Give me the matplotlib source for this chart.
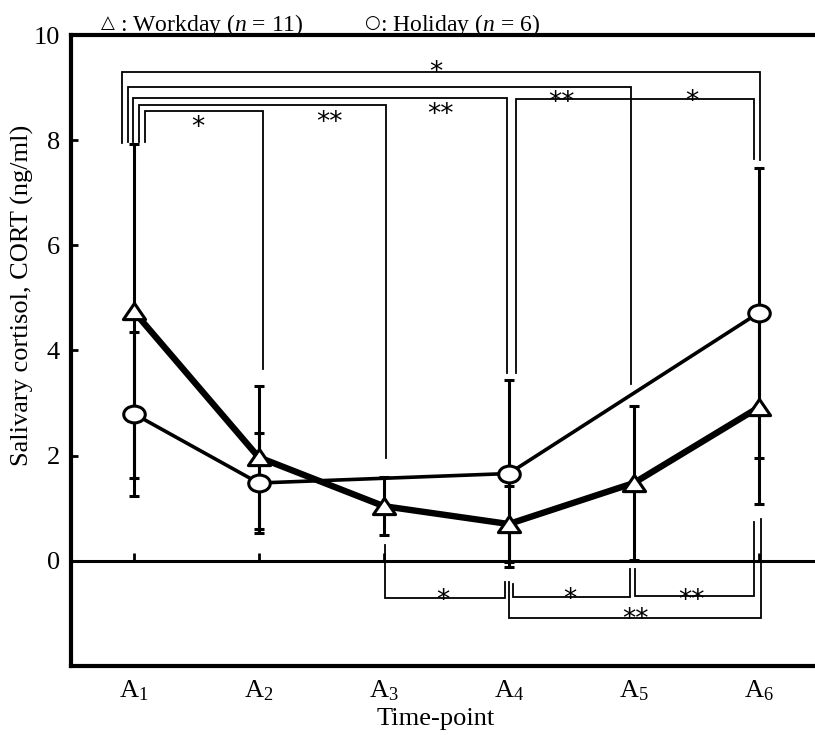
import matplotlib
matplotlib.use('Agg')
import matplotlib.pyplot as plt
from matplotlib.path import Path
from matplotlib.transforms import offset_copy
import numpy as np

plt.rcParams['font.family'] = ['Liberation Serif', 'DejaVu Sans']
plt.rcParams['mathtext.fontset'] = 'custom'
plt.rcParams['mathtext.rm'] = 'Liberation Serif'
plt.rcParams['mathtext.it'] = 'Liberation Serif:italic'

# ---------------- data ----------------
time_points = ['A$_1$', 'A$_2$', 'A$_3$', 'A$_4$', 'A$_5$', 'A$_6$']
workday_positions = [1, 2, 3, 4, 5, 6]
workday_mean = [4.75, 1.97, 1.04, 0.70, 1.48, 2.92]
workday_sd = [3.17, 1.36, 0.55, 0.72, 1.46, 1.84]
holiday_positions = [1, 2, 4, 6]
holiday_mean = [2.80, 1.48, 1.66, 4.72]
holiday_sd = [1.56, 0.96, 1.77, 2.76]
y_ticks = [0, 2, 4, 6, 8, 10]

# significance comparisons (time-point index a, index b, label)
upper_pairs = [(1, 6, '*'), (1, 5, '**'), (1, 4, '**'), (1, 3, '**'), (1, 2, '*'), (4, 6, '*')]
lower_pairs = [(3, 4, '*'), (4, 5, '*'), (5, 6, '**'), (4, 6, '**')]

# ---------------- layout of brackets ----------------
# (dx left, dx right, bar y, left end y, right end y, label x, label y)
upper_layout = [
    (-0.096, 0.008, 9.30, 7.94, 7.63, 3.42, 9.43),
    (-0.048, -0.024, 9.02, 7.96, 3.37, 4.42, 8.86),
    (-0.008, -0.016, 8.81, 7.97, 3.58, 3.45, 8.64),
    (0.040, 0.016, 8.67, 7.97, 1.95, 2.57, 8.48),
    (0.088, 0.032, 8.56, 7.97, 3.64, 1.51, 8.39),
    (0.056, -0.040, 8.79, 3.58, 7.65, 5.46, 8.88),
]
lower_layout = [
    (0.008, -0.032, -0.70, 0.30, -0.40, 3.47, -0.61),
    (0.032, -0.032, -0.68, -0.44, -0.15, 4.49, -0.59),
    (0.008, -0.040, -0.66, -0.15, 0.74, 5.46, -0.61),
    (0.000, 0.016, -1.08, -0.40, 0.80, 5.01, -0.97),
]

W, H = 815, 735
fig = plt.figure(figsize=(W / 100, H / 100), dpi=100)
ax = fig.add_axes([71 / W, 1 - 666 / H, 1 - 71 / W, (666 - 35) / H])
ylim = (-2, 10)
ax.set_xlim(0.5, 6.448)
ax.set_ylim(*ylim)

# custom (slightly flattened) markers
tri_h = 0.73
tri = Path([(0, tri_h), (-1, -tri_h), (1, -tri_h), (0, tri_h)], closed=True)
ell = Path(Path.unit_circle().vertices * np.array([1.0, 0.78]), Path.unit_circle().codes)

err_kw = dict(fmt='none', ecolor='black', elinewidth=2.2, capsize=3.6, capthick=2.2, zorder=3)
ax.errorbar(workday_positions, workday_mean, yerr=workday_sd, **err_kw)
ax.errorbar(holiday_positions, holiday_mean, yerr=holiday_sd, **err_kw)
ax.plot(workday_positions, workday_mean, color='black', lw=4.6, zorder=4)
ax.plot(holiday_positions, holiday_mean, color='black', lw=2.6, zorder=4)
ax.plot(workday_positions, workday_mean, ls='none', marker=tri, ms=16, mfc='white',
        mec='black', mew=2.2, zorder=6)
ax.plot(holiday_positions, holiday_mean, ls='none', marker=ell, ms=15.5, mfc='white',
        mec='black', mew=2.2, zorder=6)

# significance brackets
star_fs = 19
star_tr = offset_copy(ax.transData, fig=fig, y=-0.58 * star_fs, units='points')


def bracket(pair, lay):
    a, b, lab = pair
    dxl, dxr, yb, yl, yr, lx, ly = lay
    xl, xr = a + dxl, b + dxr
    ax.plot([xl, xl, xr, xr], [yl, yb, yb, yr], color='black', lw=1.3, zorder=2,
            solid_joinstyle='miter')
    ax.text(lx, ly, lab, transform=star_tr, ha='center', va='baseline',
            fontsize=star_fs, family='DejaVu Sans', color='black', zorder=7)


for p, l in zip(upper_pairs, upper_layout):
    bracket(p, l)
for p, l in zip(lower_pairs, lower_layout):
    bracket(p, l)

# axes styling
for s in ['left', 'top', 'bottom']:
    ax.spines[s].set_linewidth(3)
ax.spines['right'].set_visible(False)
ax.set_yticks(y_ticks)
ax.tick_params(axis='y', direction='in', length=5, width=2, labelsize=19, pad=8)
ax.set_xticks(workday_positions, time_points)
ax.tick_params(axis='x', length=0, labelsize=19, pad=9)

# zero line with small upward ticks
zero_pos = (0 - ylim[0]) / (ylim[1] - ylim[0])
sec = ax.secondary_xaxis(zero_pos)
sec.set_xticks(workday_positions)
sec.tick_params(direction='in', length=6, width=2, labelbottom=False)
sec.spines['bottom'].set_linewidth(2.2)

# labels
fig.text(22 / W, 1 - 295 / H, 'Salivary cortisol, CORT (ng/ml)', rotation=90,
         ha='center', va='center', fontsize=19)
fig.text(436 / W, 1 - 725 / H, 'Time-point', ha='center', va='baseline', fontsize=19)

# legend text
fig.text(101 / W, 1 - 28 / H, '△', family='DejaVu Sans', fontsize=13, va='baseline')
fig.text(120 / W, 1 - 31 / H, ': Workday ($n$ = 11)', fontsize=17, va='baseline')
fig.text(364 / W, 1 - 28 / H, '○', family='DejaVu Sans', fontsize=13, va='baseline')
fig.text(380 / W, 1 - 31 / H, ': Holiday ($n$ = 6)', fontsize=17, va='baseline')

fig.savefig('out.png', dpi=100)
